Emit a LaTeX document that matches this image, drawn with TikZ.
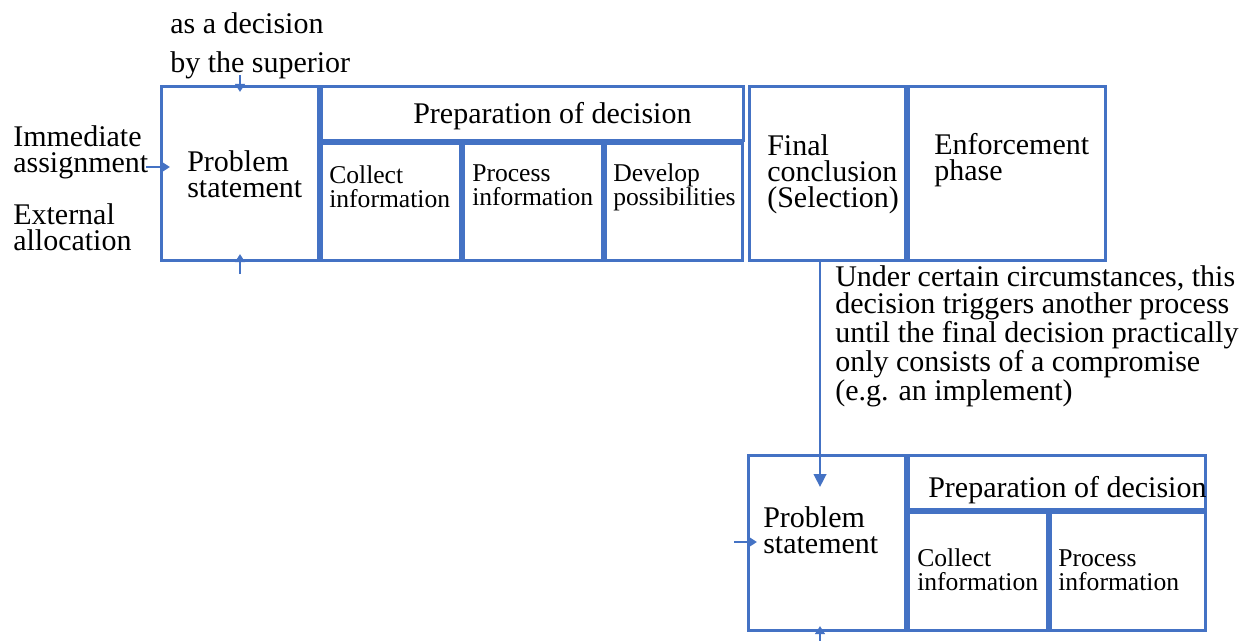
\documentclass[tikz,border=0pt]{standalone}
\usepackage{fontspec}
\setmainfont{Liberation Serif}
\usetikzlibrary{arrows.meta,calc}
\definecolor{boxblue}{HTML}{4472C4}
\tikzset{
  box/.style={draw=boxblue, line width=2pt, fill=none, inner sep=0pt},
  arr/.style={draw=boxblue, line width=1.1pt, -{Triangle[width=7.5pt,length=6pt]}},
  bigarr/.style={draw=boxblue, line width=1.1pt, -{Triangle[width=9.5pt,length=9.5pt]}},
  bigtxt/.style={anchor=base west, inner sep=0pt, align=left, font=\fontsize{22.5pt}{19.2pt}\selectfont},
  smalltxt/.style={anchor=base west, inner sep=0pt, align=left, font=\fontsize{19.2pt}{17.5pt}\selectfont},
}
\begin{document}
\begin{tikzpicture}[x=0.75pt,y=-0.75pt]
\useasboundingbox (0,0) rectangle (1256,640);
% top row boxes
\node[box, minimum width=157.6*0.75pt, minimum height=174.6*0.75pt] (ps1) at (240,173.5) {};
\node[box, minimum width=422.6*0.75pt, minimum height=54.6*0.75pt] (prep1) at (532.5,113.5) {};
\node[box, minimum width=139.6*0.75pt, minimum height=117.6*0.75pt] (col1) at (391,202) {};
\node[box, minimum width=139.6*0.75pt, minimum height=117.6*0.75pt] (pro1) at (533,202) {};
\node[box, minimum width=137.6*0.75pt, minimum height=117.6*0.75pt] (dev1) at (674,202) {};
\node[box, minimum width=156.6*0.75pt, minimum height=174.6*0.75pt] (fin) at (827.5,173.5) {};
\node[box, minimum width=197.6*0.75pt, minimum height=174.6*0.75pt] (enf) at (1007,173.5) {};
% bottom boxes
\node[box, minimum width=157.6*0.75pt, minimum height=175.6*0.75pt] (ps2) at (827,543) {};
\node[box, minimum width=297.6*0.75pt, minimum height=54.6*0.75pt] (prep2) at (1057,482.5) {};
\node[box, minimum width=139.6*0.75pt, minimum height=118.6*0.75pt] (col2) at (978,571.5) {};
\node[box, minimum width=155.6*0.75pt, minimum height=118.6*0.75pt] (pro2) at (1128,571.5) {};
% texts in boxes (anchor = baseline of last line)
\node[bigtxt] (ps1t) at (187,197) {Problem\\statement};
\node[bigtxt] (prep1t) at (413,123) {Preparation of decision};
\node[smalltxt] (col1t) at (329,207) {Collect\\information};
\node[smalltxt] (pro1t) at (472,205) {Process\\information};
\node[smalltxt] (dev1t) at (613,205) {Develop\\possibilities};
\node[bigtxt] (fint) at (767,207) {Final\\conclusion\\(Selection)};
\node[bigtxt] (enft) at (934,180) {Enforcement\\phase};
\node[bigtxt] (ps2t) at (763,553) {Problem\\statement};
\node[bigtxt] (prep2t) at (928,497) {Preparation of decision};
\node[smalltxt] (col2t) at (917,590) {Collect\\information};
\node[smalltxt] (pro2t) at (1058,590) {Process\\information};
% outside labels
\node[bigtxt] (sup1) at (170,33) {as a decision};
\node[bigtxt] (sup2) at (170,72) {by the superior};
\node[bigtxt] (imm) at (13,172) {Immediate\\assignment};
\node[bigtxt] (ext) at (13,250) {External\\allocation};
\node[bigtxt, font=\fontsize{22.5pt}{18.75pt}\selectfont] (note) at (835,400) {Under certain circumstances, this\\decision triggers another process\\until the final decision practically\\only consists of a compromise\\(e.g. an implement)};
% arrows
\coordinate (a1) at (240,75);
\coordinate (a2) at (240,274);
\coordinate (a3) at (146,167);
\coordinate (b1) at (734,542);
\coordinate (b2) at (820,642);
\draw[arr] (a1) -- ($(ps1.north)+(0,7)$);
\draw[arr] (a2) -- ($(ps1.south)+(0,-8)$);
\draw[arr] (a3) -- ($(a3 -| ps1.west)+(10,0)$);
\draw[bigarr] ($(fin.south)+(-7.5,0)$) -- ($(ps2.north)+(-7,33)$);
\draw[arr] (b1) -- ($(b1 -| ps2.west)+(10,0)$);
\draw[arr] (b2) -- ($(b2 |- ps2.south)+(0,-6)$);
\end{tikzpicture}
\end{document}
